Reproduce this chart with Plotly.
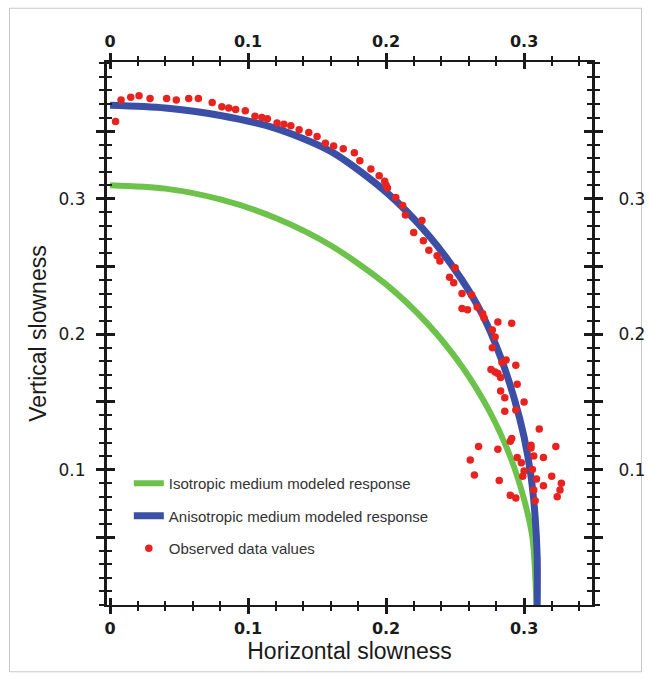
import plotly.graph_objects as go

# ---------------- data ----------------
iso_x = [0.0, 0.04, 0.08, 0.12, 0.16, 0.20, 0.23, 0.255, 0.275, 0.29, 0.30, 0.306, 0.309]
iso_y = [0.310, 0.3075, 0.2995, 0.2858, 0.2655, 0.2368, 0.2078, 0.1762, 0.143, 0.1095, 0.078, 0.050, 0.0]

aniso_x = [0.0, 0.04, 0.08, 0.12, 0.16, 0.20, 0.23, 0.255, 0.27, 0.283, 0.293, 0.30, 0.305, 0.308, 0.3095, 0.3095]
aniso_y = [0.369, 0.367, 0.3615, 0.352, 0.335, 0.305, 0.274, 0.240, 0.214, 0.183, 0.152, 0.124, 0.095, 0.065, 0.035, 0.0]

obs_x = [0.004, 0.008, 0.015, 0.021, 0.029, 0.041, 0.048, 0.057, 0.064, 0.074, 0.081, 0.086, 0.091,
         0.098, 0.105, 0.110, 0.114, 0.121, 0.126, 0.131, 0.137, 0.144, 0.150, 0.156, 0.162, 0.169,
         0.177, 0.181, 0.189, 0.195, 0.199, 0.201,
         0.200, 0.207, 0.212, 0.214, 0.226, 0.220, 0.227, 0.231, 0.237, 0.239, 0.250, 0.246, 0.249,
         0.255, 0.262, 0.255, 0.259, 0.266, 0.270, 0.271, 0.281, 0.291, 0.277, 0.279, 0.277, 0.287,
         0.294, 0.284, 0.276, 0.281,
         0.279, 0.283, 0.295, 0.283, 0.286, 0.300, 0.286, 0.294, 0.311, 0.291, 0.290, 0.267, 0.281,
         0.305, 0.305, 0.323, 0.295, 0.307, 0.314, 0.261, 0.298, 0.306, 0.300, 0.264, 0.299, 0.309,
         0.320, 0.282, 0.327, 0.314, 0.326, 0.307, 0.290, 0.294, 0.324, 0.308]
obs_y = [0.357, 0.373, 0.375, 0.376, 0.374, 0.374, 0.373, 0.374, 0.374, 0.371, 0.368, 0.367, 0.366,
         0.365, 0.361, 0.360, 0.359, 0.356, 0.355, 0.354, 0.351, 0.349, 0.346, 0.341, 0.339, 0.337,
         0.334, 0.328, 0.322, 0.317, 0.313, 0.308,
         0.310, 0.301, 0.295, 0.288, 0.284, 0.275, 0.269, 0.262, 0.258, 0.254, 0.249, 0.242, 0.238,
         0.230, 0.229, 0.219, 0.218, 0.220, 0.215, 0.212, 0.209, 0.208, 0.203, 0.198, 0.190, 0.181,
         0.177, 0.179, 0.174, 0.171,
         0.172, 0.168, 0.163, 0.158, 0.153, 0.150, 0.143, 0.144, 0.130, 0.123, 0.121, 0.117, 0.115,
         0.118, 0.116, 0.117, 0.109, 0.110, 0.109, 0.107, 0.105, 0.100, 0.099, 0.096, 0.095, 0.093,
         0.095, 0.092, 0.090, 0.088, 0.085, 0.085, 0.081, 0.079, 0.080, 0.077]

x_tickvals = [0.0, 0.1, 0.2, 0.3]
x_ticktext = ["0", "0.1", "0.2", "0.3"]
y_tickvals = [0.05, 0.10, 0.15, 0.20, 0.25, 0.30, 0.35]
y_ticktext = ["", "0.1", "", "0.2", "", "0.3", ""]

X_RANGE = [-0.0022, 0.3492]
Y_RANGE = [0.0, 0.401]

# ---------------- figure ----------------
GREEN = "#6cc24a"
BLUE = "#3b4fa6"
RED = "#e8231f"
INK = "#1a1a1a"
FONT = "Liberation Sans, Arial, sans-serif"
TICKFONT = "DejaVu Sans, sans-serif"

fig = go.Figure()
fig.add_trace(go.Scatter(x=iso_x, y=iso_y, mode="lines", name="Isotropic medium modeled response",
                         line=dict(color=GREEN, width=6, shape="spline", smoothing=0.8),
                         legendgroup="a"))
fig.add_trace(go.Scatter(x=aniso_x, y=aniso_y, mode="lines", name="Anisotropic medium modeled response",
                         line=dict(color=BLUE, width=7, shape="spline", smoothing=0.8),
                         legendgroup="b"))
fig.add_trace(go.Scatter(x=obs_x, y=obs_y, mode="markers", name="Observed data values",
                         marker=dict(color=RED, size=7.5, line=dict(width=0)),
                         legendgroup="c"))

# empty helper traces so that the overlaid frame axes (crossing ticks) get drawn
for xa, ya in [("x2", "y2"), ("x3", "y3"), ("x4", "y4")]:
    fig.add_trace(go.Scatter(x=[None], y=[None], xaxis=xa, yaxis=ya, mode="markers",
                             showlegend=False, hoverinfo="skip"))

xfont = dict(family=TICKFONT, size=16, color=INK, weight="bold")
yfont = dict(family=TICKFONT, size=17, color=INK)


def xax(ticks, **kw):
    d = dict(range=X_RANGE, showgrid=False, zeroline=False, showline=True,
             linecolor=INK, linewidth=2, tickcolor=INK, ticks=ticks,
             tickmode="array", tickvals=x_tickvals, ticklen=7, tickwidth=3,
             minor=dict(tickmode="linear", tick0=0, dtick=0.02, ticklen=4, tickwidth=2,
                        tickcolor=INK, ticks=ticks, showgrid=False))
    d.update(kw)
    return d


def yax(ticks, **kw):
    d = dict(range=Y_RANGE, showgrid=False, zeroline=False, showline=True,
             linecolor=INK, linewidth=3, tickcolor=INK, ticks=ticks,
             tickmode="array", tickvals=y_tickvals, ticklen=8, tickwidth=3,
             minor=dict(tickmode="linear", tick0=0, dtick=0.01, ticklen=5, tickwidth=2,
                        tickcolor=INK, ticks=ticks, showgrid=False))
    d.update(kw)
    return d


fig.update_layout(
    width=657, height=679,
    margin=dict(l=107, r=58, t=62, b=74),
    paper_bgcolor="white", plot_bgcolor="white",
    font=dict(family=FONT, color=INK),
    xaxis=xax("outside", side="bottom", anchor="y", ticktext=x_ticktext, tickfont=xfont,
              ticklabelstandoff=1,
              title=dict(text="Horizontal slowness", font=dict(family=FONT, size=23, color=INK),
                         standoff=0)),
    xaxis2=xax("outside", side="top", anchor="y2", overlaying="x", ticktext=x_ticktext,
               tickfont=xfont, ticklabelstandoff=0),
    xaxis3=xax("inside", side="bottom", anchor="y3", overlaying="x", showticklabels=False),
    xaxis4=xax("inside", side="top", anchor="y4", overlaying="x", showticklabels=False),
    yaxis=yax("outside", side="left", anchor="x", ticktext=y_ticktext, tickfont=yfont,
              ticklabelstandoff=7,
              title=dict(text="Vertical slowness", font=dict(family=FONT, size=23, color=INK),
                         standoff=6)),
    yaxis2=yax("outside", side="right", anchor="x2", overlaying="y", ticktext=y_ticktext,
               tickfont=yfont, ticklabelstandoff=12),
    yaxis3=yax("inside", side="left", anchor="x3", overlaying="y", showticklabels=False),
    yaxis4=yax("inside", side="right", anchor="x4", overlaying="y", showticklabels=False),
    legend=dict(x=0.045, y=0.254, xanchor="left", yanchor="top",
                bgcolor="rgba(0,0,0,0)", borderwidth=0,
                font=dict(family=FONT, size=15, color="#333333"),
                traceorder="grouped", tracegroupgap=10),
    showlegend=True,
)

# thin light border around the whole figure
fig.add_shape(type="rect", xref="paper", yref="paper",
              x0=-0.201, x1=1.102, y0=-0.123, y1=1.099,
              line=dict(color="#c8c8c8", width=1), fillcolor="rgba(0,0,0,0)", layer="below")

fig.write_html("out.html")
